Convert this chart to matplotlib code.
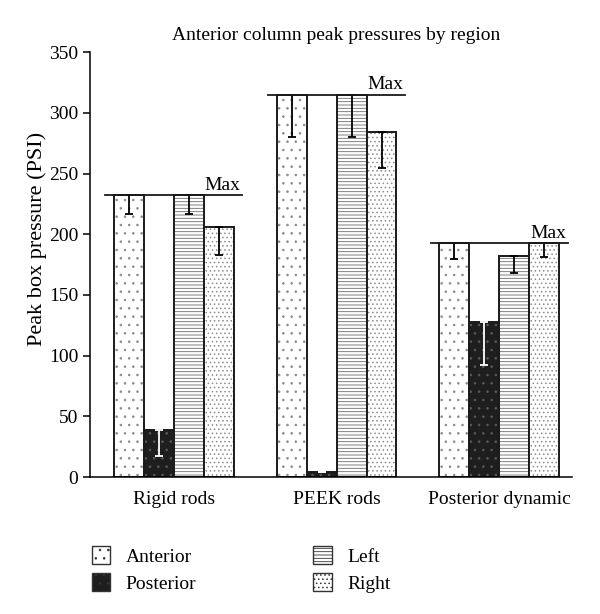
import numpy as np
import matplotlib.pyplot as plt
from matplotlib.patches import Patch

plt.rcParams['font.family'] = ['Liberation Serif', 'DejaVu Serif']
plt.rcParams['hatch.linewidth'] = 0.6

# data
groups = ["Rigid rods", "PEEK rods", "Posterior dynamic"]
series = ["Anterior", "Posterior", "Left", "Right"]
anterior = [232, 315, 193]
posterior = [39, 4, 128]
left = [232, 315, 182]
right = [206, 284, 193]
anterior_err = [15, 35, 13]
posterior_err = [22, 0, 36]
left_err = [15, 35, 14]
right_err = [23, 29, 12]
max_vals = [232, 315, 193]

values = [anterior, posterior, left, right]
errors = [anterior_err, posterior_err, left_err, right_err]

# styles: (facecolor, hatch, hatch colour, errorbar colour)
styles = [
    ("white", "..", "#8a8a8a", "black"),
    ("#1e1e1e", "..", "#5a5a5a", "white"),
    ("white", "-----", "#6a6a6a", "black"),
    ("white", "....", "#8c8c8c", "black"),
]

fig = plt.figure(figsize=(6, 6.14), dpi=100)
ax = fig.add_axes([0.15, 0.223, 0.803, 0.692])

x = np.arange(len(groups))
w = 0.184
offsets = np.array([-1.5, -0.5, 0.5, 1.5]) * w

for vals, errs, off, (fc, hatch, hc, ec) in zip(values, errors, offsets, styles):
    # hatched fill
    ax.bar(x + off, vals, w, color=fc, hatch=hatch, edgecolor=hc, linewidth=0)
    # outline
    ax.bar(x + off, vals, w, color="none", edgecolor="#1a1a1a", linewidth=1.4)
    ax.errorbar(x + off, vals, yerr=[errs, [0] * len(errs)], fmt="none",
                ecolor=ec, elinewidth=1.3, capsize=3, capthick=1.3)

# "Max" lines
for xi, m in zip(x, max_vals):
    ax.plot([xi - 0.42, xi + 0.42], [m, m], color="#1a1a1a", lw=1.3)
    ax.text(xi + 0.41, m + 1, "Max", ha="right", va="bottom", fontsize=14)

ax.set_xlim(-0.515, 2.445)
ax.set_ylim(0, 350)
ax.set_yticks(range(0, 351, 50))
ax.set_xticks(x)
ax.set_xticklabels(groups, fontsize=14)
ax.tick_params(axis="x", length=0, pad=10)
ax.tick_params(axis="y", labelsize=14, length=5, direction="out", width=1.1)
for s in ["left", "bottom"]:
    ax.spines[s].set_linewidth(1.1)
ax.spines["top"].set_visible(False)
ax.spines["right"].set_visible(False)
ax.set_ylabel("Peak box pressure (PSI)", fontsize=16)
ax.yaxis.set_label_coords(-0.09, 0.56)
ax.set_title("Anterior column peak pressures by region", fontsize=14, pad=9,
             x=0.51)

handles = [Patch(facecolor=fc, hatch=h, edgecolor="#333333", label=s)
           for s, (fc, h, hc, ec) in zip(series, styles)]
leg_kw = dict(loc="upper left", frameon=False, fontsize=14, handlelength=0.95,
              handleheight=1.0, labelspacing=0.38, handletextpad=0.8,
              borderpad=0, borderaxespad=0)
fig.legend(handles=handles[:2], bbox_to_anchor=(0.153, 0.110), **leg_kw)
fig.legend(handles=handles[2:], bbox_to_anchor=(0.522, 0.110), **leg_kw)

plt.savefig("out.png")
